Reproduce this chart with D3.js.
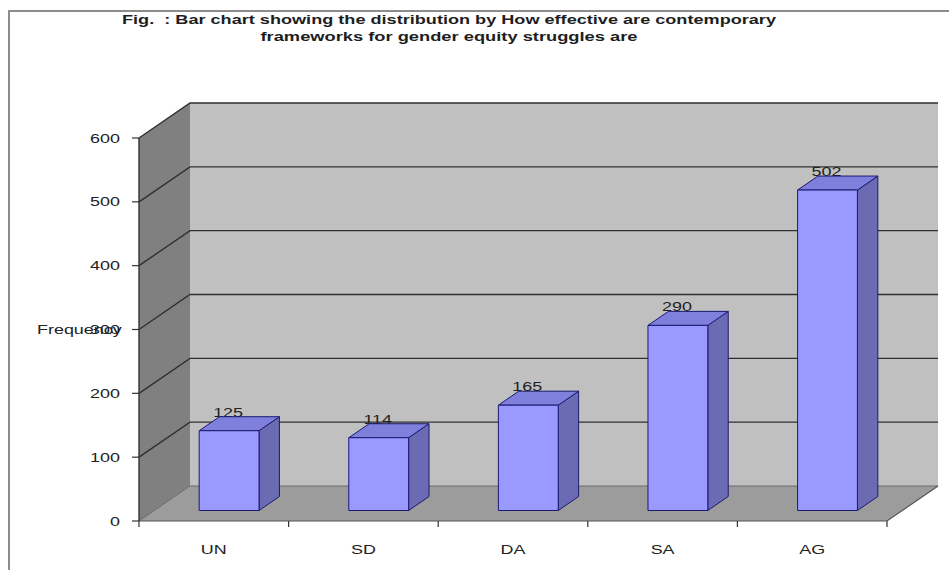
<!DOCTYPE html>
<html>
<head>
<meta charset="utf-8">
<script src="https://cdn.jsdelivr.net/npm/d3@7"></script>
<style>
  body { margin: 0; background: #fff; }
  svg { display: block; }
</style>
</head>
<body>
<svg id="chart" width="949" height="570"></svg>
<script>
// ---- data ----
const categories = ["UN", "SD", "DA", "SA", "AG"];
const frequencies = [125, 114, 165, 290, 502];
const yTicks = [0, 100, 200, 300, 400, 500, 600];
const titleLines = [
  "Fig.  : Bar chart showing the distribution by How effective are contemporary",
  "frameworks for gender equity struggles are"
];
const yAxisLabel = "Frequency";

// ---- layout ----
const svg = d3.select("#chart");
const x0 = 139, x1 = 887;            // front edge of the floor
const depthX = 51, depthY = 35;      // oblique offset of the back wall
const barDepth0 = 0.3, barDepth1 = 0.7;
const barFrac = 0.4;
const textStretch = 1.38;            // glyphs are drawn wide
const font = "'Liberation Sans', Arial, sans-serif";

const x = d3.scaleBand().domain(categories).range([x0, x1]);
const y = d3.scaleLinear().domain([0, d3.max(yTicks)]).range([521, 138]);
const yMax = d3.max(yTicks);

// oblique projection: horizontal position, value, depth (0 front .. 1 back)
const proj = (px, v, d) => [px + d * depthX, y(v) - d * depthY];
const poly = pts => "M" + pts.map(p => p.join(",")).join("L") + "Z";

// wide text helper
function wideText(g, tx, ty, str, anchor, size, weight, fill) {
  return g.append("text")
    .attr("transform", `translate(${tx},${ty}) scale(${textStretch},1)`)
    .attr("text-anchor", anchor)
    .attr("font-family", font)
    .attr("font-size", size)
    .attr("font-weight", weight || "normal")
    .attr("fill", fill || "#222")
    .text(str);
}

// outer frame
svg.append("rect")
  .attr("x", 9).attr("y", 11).attr("width", 980).attr("height", 600)
  .attr("fill", "none").attr("stroke", "#8c8c8c").attr("stroke-width", 2);

// title, two centred lines stretched to their set widths
const titleWidths = [654, 377];
const tg = svg.append("g");
titleLines.forEach((line, i) => {
  tg.append("text")
    .attr("x", 449 - titleWidths[i] / 2)
    .attr("y", 24 + i * 17)
    .attr("textLength", titleWidths[i])
    .attr("lengthAdjust", "spacingAndGlyphs")
    .attr("font-family", font)
    .attr("font-size", 12.5)
    .attr("font-weight", "bold")
    .attr("fill", "#1e1e1e")
    .style("white-space", "pre")
    .text(line);
});

// ---- walls and floor ----
const walls = svg.append("g");
walls.append("path")
  .attr("d", poly([proj(x0, 0, 0), proj(x0, yMax, 0), proj(x0, yMax, 1), proj(x0, 0, 1)]))
  .attr("fill", "#808080");
walls.append("path")
  .attr("d", poly([proj(x0, 0, 1), proj(x0, yMax, 1), proj(x1, yMax, 1), proj(x1, 0, 1)]))
  .attr("fill", "#c0c0c0");
walls.append("path")
  .attr("d", poly([proj(x0, 0, 0), proj(x1, 0, 0), proj(x1, 0, 1), proj(x0, 0, 1)]))
  .attr("fill", "#9c9c9c");

// gridlines across left wall and back wall
const grid = svg.append("g").attr("fill", "none");
grid.selectAll("path.grid")
  .data(yTicks)
  .join("path")
  .attr("class", "grid")
  .attr("d", v => "M" + [proj(x0, v, 0), proj(x0, v, 1), proj(x1, v, 1)].map(p => p.join(",")).join("L"))
  .attr("stroke", v => v === 0 ? "#6a6a6a" : "#303030")
  .attr("stroke-width", v => v === 0 ? 1 : 1.4);

// floor edges
grid.append("path")
  .attr("d", "M" + [proj(x0, 0, 0), proj(x1, 0, 0), proj(x1, 0, 1)].map(p => p.join(",")).join("L"))
  .attr("stroke", "#555").attr("stroke-width", 1.2);

// ---- axes ----
const axis = svg.append("g").attr("stroke", "#333");
axis.append("line")
  .attr("x1", x0).attr("x2", x0).attr("y1", y(0)).attr("y2", y(yMax))
  .attr("stroke-width", 1.4);
axis.selectAll("line.ytick")
  .data(yTicks)
  .join("line")
  .attr("class", "ytick")
  .attr("x1", x0 - 7).attr("x2", x0)
  .attr("y1", d => y(d)).attr("y2", d => y(d))
  .attr("stroke-width", 1.2);

const bw = x.bandwidth();
const xBounds = d3.range(categories.length + 1).map(i => x0 + i * bw);
axis.selectAll("line.xtick")
  .data(xBounds)
  .join("line")
  .attr("class", "xtick")
  .attr("x1", d => d).attr("x2", d => d)
  .attr("y1", y(0)).attr("y2", y(0) + 6)
  .attr("stroke-width", 1.2);

const labels = svg.append("g");
yTicks.forEach(v => wideText(labels, x0 - 19, y(v) + 4.5, String(v), "end", 13));
categories.forEach(c => wideText(labels, x(c) + bw / 2, 554, c, "middle", 13));
wideText(labels, 37, 334, yAxisLabel, "start", 13);

// ---- bars ----
const bars = svg.append("g")
  .attr("stroke", "#1a1a70").attr("stroke-width", 1).attr("stroke-linejoin", "round");

categories.forEach((c, i) => {
  const v = frequencies[i];
  const cx = x(c) + bw / 2;
  const bx0 = cx - bw * barFrac / 2, bx1 = cx + bw * barFrac / 2;
  const g = bars.append("g");
  // side face
  g.append("path")
    .attr("d", poly([proj(bx1, 0, barDepth0), proj(bx1, v, barDepth0), proj(bx1, v, barDepth1), proj(bx1, 0, barDepth1)]))
    .attr("fill", "#6b6bb3");
  // top face
  g.append("path")
    .attr("d", poly([proj(bx0, v, barDepth0), proj(bx1, v, barDepth0), proj(bx1, v, barDepth1), proj(bx0, v, barDepth1)]))
    .attr("fill", "#7f7fdc");
  // front face
  g.append("path")
    .attr("d", poly([proj(bx0, 0, barDepth0), proj(bx1, 0, barDepth0), proj(bx1, v, barDepth0), proj(bx0, v, barDepth0)]))
    .attr("fill", "#9999ff");
});

// value labels
categories.forEach((c, i) => {
  const v = frequencies[i];
  const cx = x(c) + bw / 2;
  const p = proj(cx, v, barDepth0);
  wideText(labels, p[0] - 1, p[1] - 14, String(v), "middle", 13);
});
</script>
</body>
</html>
